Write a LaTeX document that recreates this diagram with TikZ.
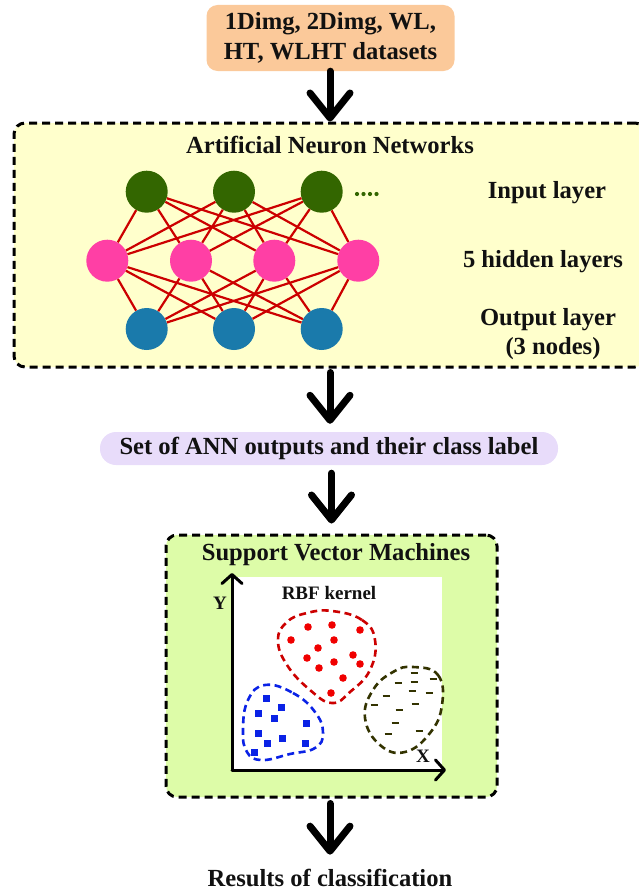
\documentclass[tikz,border=0pt]{standalone}
\usepackage{fontspec}
\setmainfont{Liberation Serif}
\usetikzlibrary{arrows.meta,shapes.geometric}

\definecolor{peach}{HTML}{FBC99A}
\definecolor{paleyellow}{HTML}{FFFFCC}
\definecolor{lavender}{HTML}{E8DCFA}
\definecolor{palelime}{HTML}{DDFCA8}
\definecolor{ingreen}{HTML}{336600}
\definecolor{hidpink}{HTML}{FF3FA5}
\definecolor{outblue}{HTML}{1A7AAB}
\definecolor{wirered}{HTML}{CC0000}
\definecolor{dotred}{HTML}{F00000}
\definecolor{sqblue}{HTML}{0A22E6}
\definecolor{olive}{HTML}{333300}
\definecolor{ink}{HTML}{111111}

\tikzset{
  bigtext/.style={font=\bfseries\fontsize{24.6}{29.6}\selectfont, text=ink},
  smalltext/.style={font=\bfseries\fontsize{19}{22}\selectfont, text=ink},
  dashbox/.style={draw=black, line width=3pt, dash pattern=on 8pt off 5pt, rounded corners=11pt},
  flow/.style={line width=7pt, line cap=round, draw=black,
    -{Straight Barb[length=25pt,width=40pt,line width=7pt,round]}},
  axis/.style={line width=3pt, line cap=round,
    -{Straight Barb[length=9pt,width=20pt,line width=3pt,round]}},
  neuron/.style={ellipse, minimum width=42pt, minimum height=42pt, inner sep=0pt},
  wire/.style={draw=wirered, line width=2.2pt},
  blob/.style={line width=2.6pt, dash pattern=on 7pt off 4.5pt},
}

\begin{document}
\begin{tikzpicture}[x=1pt,y=-1pt]
\useasboundingbox (0,0) rectangle (638,891);

% input data box
\node[fill=peach, rounded corners=11pt, minimum width=248pt, minimum height=66pt,
      align=center, bigtext, inner sep=0pt] (data) at (330.5,38)
      {1Dimg, 2Dimg, WL,\\HT, WLHT datasets};

% ANN frame
\node[dashbox, fill=paleyellow, minimum width=632pt, minimum height=244pt] (ann) at (330,245) {};
\node[bigtext] (anntitle) at (330,145) {Artificial Neuron Networks};

% neurons
\foreach \x [count=\i] in {146.7,234,321.7}
  \node[neuron, fill=ingreen] (g\i) at (\x,191.7) {};
\foreach \x [count=\i] in {107.3,191,274.3,358.3}
  \node[neuron, fill=hidpink] (p\i) at (\x,260.7) {};
\foreach \x [count=\i] in {146.7,234,321.7}
  \node[neuron, fill=outblue] (b\i) at (\x,329) {};

\foreach \i in {1,2,3}
  \foreach \j in {1,2,3,4}
  {
    \draw[wire] (g\i) -- (p\j);
    \draw[wire] (b\i) -- (p\j);
  }

\foreach \x in {357,363.5,370,376.5}
  \fill[ingreen] (\x,194) circle (2.1pt);

\node[bigtext] (lin) at (547,193) {Input layer};
\node[bigtext] (lhid) at (543,262) {5 hidden layers};
\node[bigtext] (lout) at (548,320) {Output layer};
\node[bigtext] (lnum) at (553,349) {(3 nodes)};

% intermediate result
\node[fill=lavender, rounded corners=16pt, minimum width=458pt, minimum height=33pt,
      inner sep=0pt, bigtext] (set) at (329,448.5) {Set of ANN outputs and their class label};

% SVM frame
\node[dashbox, fill=palelime, minimum width=331pt, minimum height=262pt] (svm) at (331.5,666) {};
\node[bigtext] (svmtitle) at (336,555) {Support Vector Machines};

% feature plane
\fill[white] (232,577) rectangle (442,770);
\coordinate (org) at (232,770);
\coordinate (ytip) at (232,573);
\coordinate (xtip) at (446,770);
\draw[axis] (org) -- (ytip);
\draw[axis] (org) -- (xtip);
\node[smalltext] (ylab) at (220,603) {Y};
\node[smalltext] (xlab) at (423,756) {X};
\node[smalltext] (rbf) at (329,593) {RBF kernel};

% class regions
\draw[blob, draw=wirered] plot[smooth cycle, tension=0.75] coordinates
  {(332,611) (362,620) (375,640) (370,670) (350,692) (332,703) (310,690) (287,665) (278,640) (287,622) (307,613)};
\draw[blob, draw=sqblue] plot[smooth cycle, tension=0.75] coordinates
  {(265,685) (293,693) (315,712) (323,733) (315,748) (290,754) (262,760) (247,752) (243,730) (248,700)};
\draw[blob, draw=olive] plot[smooth cycle, tension=0.75] coordinates
  {(413,667) (438,675) (442,705) (430,733) (405,752) (380,745) (365,718) (373,690) (393,672)};

\foreach \p in {(308,627),(332,625),(360,630),(291,640),(334,640),(318,648),(353,655),
                (307,658),(360,664),(334,662),(319,668),(343,678),(331,693)}
  \fill[dotred] \p circle (3.8pt);

\foreach \p in {(266,698),(281,707),(258,713),(274,718),(306,723),(258,733),(282,738),
                (267,743),(305,743),(254,752)}
  \fill[sqblue] \p ++(-3.5,-3.5) rectangle ++(7,7);

\foreach \p in {(414,673),(433,679),(414,682),(398,683),(412,691),(429,693),(386,696),
                (415,704),(374,705),(399,710),(395,723),(419,731),(388,734)}
  \draw[olive, line width=1.8pt] \p ++(-3.5,0) -- ++(7,0);

% final result
\node[bigtext] (res) at (330,878) {Results of classification};

% flow arrows
\draw[flow] (data.south -| 330,0) -- (ann.north);
\draw[flow, shorten <=4pt, shorten >=8pt] (ann.south) -- (set.north -| ann.south);
\draw[flow, shorten <=8pt, shorten >=10pt] (set.south -| svm.north) -- (svm.north);
\draw[flow, shorten <=5pt, shorten >=11pt] (svm.south -| res.north) -- (res.north);
\end{tikzpicture}
\end{document}
